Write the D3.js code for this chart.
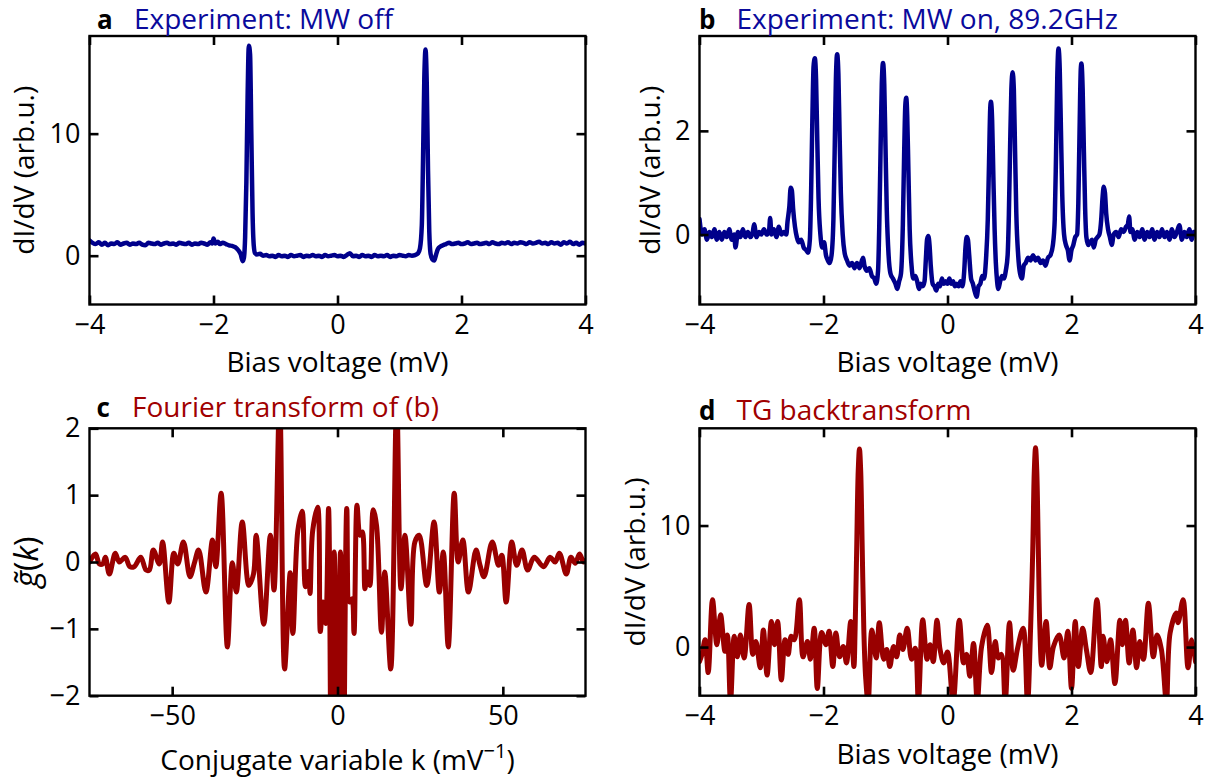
<!DOCTYPE html>
<html>
<head>
<meta charset="utf-8">
<script src="https://cdn.jsdelivr.net/npm/d3@7"></script>
<style>
body { margin: 0; background: #fff; }
text { font-family: "Open Sans", sans-serif; fill: #000; }
</style>
</head>
<body>
<div id="chart"></div>
<script>

// ---- data ----

// a: dI/dV, microwave off (bias mV, arb.u.)
var ptsA = [[-4.00,1.25],[-3.95,1.05],[-3.90,0.95],[-3.85,1.10],[-3.80,0.90],[-3.75,1.05],[-3.70,0.85],[-3.65,1.00],
  [-3.60,0.95],[-3.55,1.10],[-3.50,0.90],[-3.45,1.00],[-3.40,1.05],[-3.35,0.90],[-3.30,1.00],[-3.25,0.95],[-3.20,1.05],
  [-3.15,0.90],[-3.10,0.85],[-3.05,1.05],[-3.00,1.00],[-2.95,0.95],[-2.90,1.05],[-2.85,0.90],[-2.80,1.00],[-2.75,1.05],
  [-2.70,0.95],[-2.65,1.00],[-2.60,0.90],[-2.55,1.05],[-2.50,1.00],[-2.45,0.95],[-2.40,1.05],[-2.35,0.90],[-2.30,1.00],
  [-2.25,0.95],[-2.20,1.05],[-2.15,1.00],[-2.10,0.90],[-2.05,1.10],[-2.02,1.00],[-2.00,1.40],[-1.97,1.00],[-1.93,1.15],
  [-1.90,0.95],[-1.85,1.05],[-1.80,0.95],[-1.75,0.85],[-1.70,0.80],[-1.65,0.70],[-1.60,0.45],[-1.56,0.10],[-1.53,-0.45],
  [-1.51,-0.20],[-1.49,1.50],[-1.47,6.00],[-1.45,13.0],[-1.43,17.2],[-1.41,16.5],[-1.39,10.0],[-1.37,3.50],[-1.35,0.80],
  [-1.33,0.20],[-1.30,0.10],[-1.25,0.15],[-1.20,0.00],[-1.15,0.05],[-1.10,-0.05],[-1.05,0.00],[-1.00,-0.10],[-0.95,0.05],
  [-0.90,-0.05],[-0.85,0.00],[-0.80,-0.10],[-0.75,0.05],[-0.70,-0.05],[-0.65,0.00],[-0.60,0.05],[-0.55,-0.10],[-0.50,0.00],
  [-0.45,-0.05],[-0.40,0.05],[-0.35,-0.05],[-0.30,0.00],[-0.25,-0.10],[-0.20,0.05],[-0.15,-0.05],[-0.10,0.00],[-0.05,0.05],
  [0.00,-0.05],[0.05,0.00],[0.10,-0.10],[0.15,0.05],[0.20,0.20],[0.25,-0.05],[0.30,0.00],[0.35,-0.10],[0.40,0.05],
  [0.45,-0.05],[0.50,0.00],[0.55,-0.10],[0.60,0.05],[0.65,-0.05],[0.70,0.00],[0.75,-0.05],[0.80,0.05],[0.85,-0.10],
  [0.90,0.00],[0.95,-0.05],[1.00,0.05],[1.05,0.00],[1.10,-0.05],[1.15,0.05],[1.20,0.00],[1.25,0.05],[1.30,0.20],
  [1.33,0.60],[1.36,2.50],[1.38,8.00],[1.40,14.5],[1.42,16.9],[1.44,14.0],[1.46,7.00],[1.48,2.00],[1.50,0.20],
  [1.53,-0.30],[1.56,-0.40],[1.59,0.10],[1.62,0.55],[1.66,0.75],[1.70,0.85],[1.75,0.95],[1.80,1.05],[1.85,0.95],
  [1.90,1.00],[1.95,1.05],[2.00,0.95],[2.05,1.00],[2.10,1.10],[2.15,0.95],[2.20,1.00],[2.25,1.05],[2.30,0.95],
  [2.35,1.00],[2.40,1.05],[2.45,0.95],[2.50,1.10],[2.55,1.00],[2.60,0.95],[2.65,1.05],[2.70,1.00],[2.75,1.10],
  [2.80,0.95],[2.85,1.05],[2.90,1.00],[2.95,1.10],[3.00,1.05],[3.05,0.95],[3.10,1.10],[3.15,1.00],[3.20,1.05],
  [3.25,1.15],[3.30,1.00],[3.35,1.05],[3.40,0.95],[3.45,1.10],[3.50,1.00],[3.55,1.05],[3.60,0.90],[3.65,1.10],
  [3.70,1.00],[3.75,1.15],[3.80,0.95],[3.85,1.05],[3.90,0.90],[3.95,1.05],[4.00,1.00]];

// b: dI/dV, microwave on at 89.2 GHz
var ptsB = [[-4.00,0.30],[-3.96,0.00],[-3.92,0.10],[-3.88,-0.10],[-3.84,0.05],[-3.80,-0.05],[-3.76,0.10],[-3.72,-0.10],
  [-3.68,0.05],[-3.64,-0.10],[-3.60,0.05],[-3.56,-0.05],[-3.52,0.10],[-3.48,-0.10],[-3.44,0.00],[-3.42,-0.25],[-3.38,0.05],
  [-3.34,-0.05],[-3.30,0.10],[-3.26,-0.05],[-3.22,0.05],[-3.18,-0.05],[-3.14,0.05],[-3.12,0.20],[-3.08,-0.05],[-3.04,0.05],
  [-3.00,0.00],[-2.96,0.10],[-2.92,0.00],[-2.88,0.05],[-2.86,0.32],[-2.84,0.00],[-2.80,0.10],[-2.76,-0.05],[-2.72,0.15],
  [-2.68,0.00],[-2.64,0.05],[-2.60,0.00],[-2.58,0.25],[-2.55,0.55],[-2.53,0.90],[-2.51,0.85],[-2.49,0.50],[-2.46,0.15],
  [-2.43,-0.05],[-2.40,-0.15],[-2.36,-0.10],[-2.32,-0.25],[-2.28,-0.30],[-2.25,-0.35],[-2.22,-0.10],[-2.20,0.80],
  [-2.18,2.20],[-2.16,3.25],[-2.14,3.40],[-2.12,3.00],[-2.10,1.80],[-2.08,0.70],[-2.05,0.00],[-2.02,-0.25],[-1.99,-0.15],
  [-1.96,-0.40],[-1.93,-0.50],[-1.90,-0.55],[-1.87,-0.40],[-1.84,0.30],[-1.82,1.60],[-1.80,3.00],[-1.78,3.48],
  [-1.76,3.10],[-1.74,1.90],[-1.72,0.80],[-1.69,0.00],[-1.66,-0.35],[-1.62,-0.50],[-1.58,-0.60],[-1.54,-0.55],
  [-1.50,-0.65],[-1.46,-0.55],[-1.42,-0.65],[-1.38,-0.50],[-1.36,-0.45],[-1.34,-0.60],[-1.30,-0.70],[-1.26,-0.65],
  [-1.22,-0.80],[-1.18,-0.85],[-1.15,-0.95],[-1.12,-0.70],[-1.10,0.20],[-1.08,1.60],[-1.06,2.90],[-1.04,3.31],
  [-1.02,2.90],[-1.00,1.70],[-0.98,0.50],[-0.95,-0.40],[-0.92,-0.75],[-0.88,-0.85],[-0.84,-0.95],[-0.81,-1.05],
  [-0.78,-0.90],[-0.75,-0.75],[-0.72,0.20],[-0.70,1.50],[-0.68,2.50],[-0.665,2.64],[-0.65,2.30],[-0.63,1.20],[-0.61,0.10],
  [-0.58,-0.60],[-0.55,-0.85],[-0.52,-0.80],[-0.49,-0.90],[-0.46,-1.05],[-0.43,-0.95],[-0.40,-1.00],[-0.37,-0.90],
  [-0.35,-0.50],[-0.33,-0.10],[-0.31,-0.03],[-0.29,-0.20],[-0.27,-0.60],[-0.24,-0.95],[-0.21,-1.00],[-0.18,-1.08],
  [-0.15,-0.95],[-0.12,-1.00],[-0.09,-0.85],[-0.06,-0.95],[-0.03,-0.90],[0.00,-0.95],[0.03,-0.85],[0.06,-0.95],
  [0.09,-0.90],[0.12,-1.00],[0.15,-0.95],[0.18,-1.00],[0.21,-0.90],[0.24,-1.00],[0.27,-0.70],[0.29,-0.25],[0.31,-0.05],
  [0.33,-0.10],[0.35,-0.40],[0.38,-0.85],[0.41,-0.95],[0.44,-1.10],[0.47,-1.20],[0.50,-1.00],[0.53,-0.95],[0.56,-0.80],
  [0.59,-0.85],[0.62,-0.50],[0.65,0.30],[0.67,1.40],[0.69,2.45],[0.70,2.56],[0.72,2.20],[0.74,1.10],[0.76,0.10],
  [0.78,-0.55],[0.80,-0.90],[0.82,-1.05],[0.85,-0.90],[0.88,-0.80],[0.91,-0.85],[0.94,-0.70],[0.97,-0.40],[0.99,0.40],
  [1.01,1.70],[1.03,2.80],[1.05,3.13],[1.07,2.80],[1.09,1.60],[1.11,0.40],[1.14,-0.40],[1.17,-0.75],[1.20,-0.85],
  [1.23,-0.60],[1.26,-0.55],[1.30,-0.45],[1.34,-0.50],[1.38,-0.40],[1.42,-0.50],[1.46,-0.45],[1.50,-0.55],[1.54,-0.50],
  [1.58,-0.60],[1.62,-0.45],[1.66,-0.40],[1.70,-0.20],[1.73,0.30],[1.75,1.50],[1.77,3.00],[1.79,3.59],[1.81,3.20],
  [1.83,2.00],[1.85,0.80],[1.88,0.00],[1.91,-0.20],[1.94,-0.30],[1.97,-0.50],[2.00,-0.30],[2.03,-0.20],[2.06,-0.05],
  [2.09,0.00],[2.11,0.60],[2.13,2.00],[2.15,3.20],[2.16,3.30],[2.18,2.80],[2.20,1.60],[2.22,0.50],[2.24,-0.05],
  [2.27,-0.20],[2.30,-0.15],[2.33,-0.10],[2.36,-0.25],[2.39,-0.10],[2.42,-0.05],[2.45,0.00],[2.48,0.30],[2.50,0.70],
  [2.52,0.92],[2.54,0.80],[2.56,0.40],[2.59,0.10],[2.62,-0.05],[2.65,-0.20],[2.68,0.00],[2.72,0.05],[2.76,-0.05],
  [2.80,0.10],[2.84,0.05],[2.88,0.15],[2.91,0.20],[2.93,0.35],[2.95,0.05],[2.98,0.10],[3.02,-0.10],[3.06,0.05],
  [3.10,-0.05],[3.14,0.10],[3.18,-0.10],[3.22,0.05],[3.26,-0.05],[3.30,0.10],[3.34,-0.10],[3.38,0.05],[3.42,-0.05],
  [3.46,0.10],[3.50,-0.05],[3.54,0.05],[3.58,-0.10],[3.62,0.10],[3.66,-0.05],[3.70,0.05],[3.74,0.18],[3.78,-0.10],
  [3.82,0.05],[3.86,-0.05],[3.90,0.10],[3.94,-0.10],[3.97,0.05],[4.00,0.05]];

// c: Fourier transform of (b), k in 1/mV
var ptsC = [[-75.0,0.00],[-73.2,0.12],[-72.0,-0.03],[-71.0,-0.03],[-70.2,0.07],[-69.0,-0.18],[-67.2,0.13],[-66.0,0.00],
  [-64.2,0.07],[-62.8,-0.07],[-61.5,-0.07],[-59.5,0.07],[-57.9,-0.12],[-56.9,-0.12],[-55.7,0.18],[-53.9,-0.03],
  [-52.9,0.30],[-51.0,-0.60],[-49.5,0.13],[-48.3,-0.03],[-46.6,0.30],[-44.6,-0.22],[-43.3,-0.02],[-42.0,0.18],
  [-39.8,-0.45],[-37.8,0.33],[-36.8,-0.07],[-35.2,1.03],[-33.3,-1.27],[-31.8,-0.01],[-30.6,-0.45],[-28.8,0.60],
  [-26.8,-0.35],[-25.4,-0.18],[-24.6,0.40],[-22.3,-0.93],[-20.3,0.40],[-19.2,-0.42],[-17.5,2.40],[-16.0,-1.60],
  [-14.3,-0.16],[-13.5,-1.07],[-12.0,0.47],[-10.7,0.76],[-9.7,-0.37],[-8.7,-0.14],[-8.3,-0.47],[-7.5,0.47],
  [-6.0,0.82],[-5.2,-1.04],[-4.4,-0.60],[-3.6,-0.92],[-2.7,0.80],[-1.9,-3.00],[-1.0,0.15],[0.0,-3.00],[0.9,0.15],
  [1.8,-3.00],[2.8,0.80],[3.7,-0.60],[4.4,-0.55],[5.0,-1.07],[5.9,0.85],[6.8,0.40],[7.5,0.45],[8.3,-0.40],[9.0,-0.15],
  [9.8,-0.35],[10.8,0.78],[11.8,0.55],[13.3,-1.05],[14.3,-0.15],[16.1,-1.60],[17.9,2.40],[19.2,-0.40],[20.4,0.40],
  [22.2,-0.93],[23.4,0.30],[24.7,0.40],[27.0,-0.35],[29.2,0.60],[30.8,-0.45],[32.0,0.15],[33.5,-1.27],[35.3,1.03],
  [36.5,0.00],[37.9,0.33],[39.6,-0.45],[41.9,0.18],[43.1,-0.05],[44.3,-0.22],[46.8,0.30],[48.7,-0.05],[49.7,0.10],
  [51.0,-0.60],[52.7,0.30],[54.2,-0.05],[55.8,0.18],[57.5,-0.12],[59.5,0.07],[62.3,-0.07],[64.3,0.07],[65.8,0.00],
  [67.1,0.13],[69.2,-0.18],[70.6,0.07],[71.9,-0.02],[73.2,0.12],[74.4,0.00],[75.0,0.02]];

// d: TG backtransform
var ptsD = [[-4.00,-1.2],[-3.96,-0.6],[-3.91,0.6],[-3.86,-2.1],[-3.79,3.9],[-3.72,0.2],[-3.66,2.65],[-3.59,-0.35],
  [-3.55,1.0],[-3.50,-4.5],[-3.44,0.9],[-3.39,-0.8],[-3.34,1.0],[-3.28,-0.9],[-3.20,3.5],[-3.14,-0.6],[-3.09,0.45],
  [-3.02,-1.7],[-2.97,1.4],[-2.91,-2.3],[-2.84,2.1],[-2.79,0.2],[-2.74,2.1],[-2.68,-2.7],[-2.62,0.6],[-2.57,-0.6],
  [-2.52,0.9],[-2.47,0.6],[-2.39,3.9],[-2.33,-0.8],[-2.26,0.45],[-2.21,-1.0],[-2.15,1.55],[-2.10,-3.4],[-2.03,1.2],
  [-1.96,0.2],[-1.91,1.3],[-1.85,-1.6],[-1.80,1.15],[-1.74,-0.8],[-1.68,0.05],[-1.63,-1.3],[-1.56,2.1],[-1.51,-1.6],
  [-1.49,1.5],[-1.465,8.0],[-1.44,14.5],[-1.42,16.3],[-1.40,14.5],[-1.375,8.0],[-1.35,1.5],[-1.32,-2.5],[-1.28,-4.6],
  [-1.22,1.4],[-1.15,-0.9],[-1.10,2.0],[-1.03,-1.0],[-0.98,-0.2],[-0.93,-1.6],[-0.87,0.05],[-0.82,-0.8],[-0.77,1.0],
  [-0.72,-0.2],[-0.65,1.55],[-0.58,-1.0],[-0.52,-0.1],[-0.47,-4.5],[-0.40,2.25],[-0.33,-1.0],[-0.28,0.2],[-0.23,-1.2],
  [-0.17,2.2],[-0.12,-0.2],[-0.06,-1.3],[0.00,-0.4],[0.09,-4.5],[0.19,2.2],[0.26,-1.3],[0.31,-0.6],[0.36,-2.4],
  [0.42,0.3],[0.48,-4.5],[0.55,0.05],[0.64,1.8],[0.71,-2.1],[0.77,0.45],[0.82,-0.9],[0.87,-0.6],[0.93,-4.5],[1.00,2.0],
  [1.06,-1.9],[1.13,-0.1],[1.22,1.55],[1.29,-4.6],[1.34,1.5],[1.375,8.0],[1.40,14.5],[1.42,16.4],[1.44,14.5],
  [1.465,8.0],[1.49,1.5],[1.52,-1.5],[1.59,2.1],[1.65,-1.7],[1.71,0.05],[1.80,1.0],[1.88,-0.9],[1.94,1.3],[2.00,-3.4],
  [2.06,2.1],[2.11,-1.6],[2.18,1.55],[2.24,-0.2],[2.31,-2.1],[2.41,3.9],[2.48,-1.6],[2.51,0.9],[2.57,-1.2],[2.63,0.6],
  [2.70,-3.0],[2.78,2.2],[2.82,0.2],[2.87,2.2],[2.93,-1.3],[2.99,1.4],[3.05,-1.7],[3.10,0.45],[3.16,-1.0],[3.24,3.6],
  [3.32,-0.8],[3.38,1.0],[3.45,-0.2],[3.53,-4.5],[3.59,1.15],[3.69,2.8],[3.72,2.0],[3.80,3.9],[3.88,-1.7],[3.94,0.6],
  [4.00,-1.2]];

// tick values
var biasTicks = [-4, -2, 0, 2, 4];
var kTicks = [-50, 0, 50];
var ticksA = [0, 10], ticksB = [0, 2], ticksC = [-2, -1, 0, 1, 2], ticksD = [0, 10];

var blue = "#00008b", blueTitle = "#0a0a9c";
var red = "#990000", redTitle = "#a00000";

var svg = d3.select("#chart").append("svg")
    .attr("width", 1220)
    .attr("height", 781);

var panels = [
  {id: "a", pts: ptsA, box: [89.5, 585.5, 36, 304.5], xdom: [-4, 4], ydom: [-4, 18], xt: biasTicks, yt: ticksA,
   color: blue, tcolor: blueTitle, curve: d3.curveMonotoneX, lx: 97, tx: 134, ty: 29,
   title: "Experiment: MW off", xlabel: "Bias voltage (mV)", xly: 372, ylx: 34, width: 4.5},
  {id: "b", pts: ptsB, box: [699.5, 1195.5, 36, 304.5], xdom: [-4, 4], ydom: [-1.35, 3.83], xt: biasTicks, yt: ticksB,
   color: blue, tcolor: blueTitle, curve: d3.curveMonotoneX, lx: 699, tx: 736.5, ty: 29,
   title: "Experiment: MW on, 89.2GHz", xlabel: "Bias voltage (mV)", xly: 372, ylx: 660, width: 4.5},
  {id: "c", pts: ptsC, box: [89.5, 585.5, 428.3, 695.7], xdom: [-75, 75], ydom: [-2, 2], xt: kTicks, yt: ticksC,
   color: red, tcolor: redTitle, curve: d3.curveCatmullRom, lx: 96.5, tx: 132, ty: 417,
   title: "Fourier transform of (b)", xlabel: "k", xly: 770, ylx: 38, width: 5},
  {id: "d", pts: ptsD, box: [699.5, 1195.5, 428.3, 695.7], xdom: [-4, 4], ydom: [-4, 18], xt: biasTicks, yt: ticksD,
   color: red, tcolor: redTitle, curve: d3.curveCatmullRom, lx: 699, tx: 736.5, ty: 420,
   title: "TG backtransform", xlabel: "Bias voltage (mV)", xly: 764, ylx: 645, width: 5}
];

panels.forEach(function(p) {
  var l = p.box[0], r = p.box[1], t = p.box[2], b = p.box[3];
  var x = d3.scaleLinear().domain(p.xdom).range([l, r]);
  var y = d3.scaleLinear().domain(p.ydom).range([b, t]);

  // clip the trace to the frame
  svg.append("clipPath").attr("id", "clip-" + p.id)
    .append("rect").attr("x", l).attr("y", t).attr("width", r - l).attr("height", b - t);

  var line = d3.line()
      .x(function(d) { return x(d[0]); })
      .y(function(d) { return y(d[1]); })
      .curve(p.curve);

  svg.append("path")
      .datum(p.pts)
      .attr("clip-path", "url(#clip-" + p.id + ")")
      .attr("fill", "none")
      .attr("stroke", p.color)
      .attr("stroke-width", p.width)
      .attr("stroke-linejoin", "round")
      .attr("stroke-linecap", "round")
      .attr("d", line);

  // inward ticks on all four sides
  var fmt = function(d) { return d3.format("d")(d).replace("-", "\u2212"); };
  var gb = svg.append("g").attr("transform", "translate(0," + b + ")")
      .call(d3.axisBottom(x).tickValues(p.xt).tickSize(-9).tickPadding(10).tickFormat(fmt));
  var gt = svg.append("g").attr("transform", "translate(0," + t + ")")
      .call(d3.axisTop(x).tickValues(p.xt).tickSize(-9).tickFormat(""));
  var gl = svg.append("g").attr("transform", "translate(" + l + ",0)")
      .call(d3.axisLeft(y).tickValues(p.yt).tickSize(-9).tickPadding(9).tickFormat(fmt));
  var gr = svg.append("g").attr("transform", "translate(" + r + ",0)")
      .call(d3.axisRight(y).tickValues(p.yt).tickSize(-9).tickFormat(""));

  [gb, gt, gl, gr].forEach(function(g) {
    g.select(".domain").remove();
    g.selectAll(".tick line").attr("stroke", "#000").attr("stroke-width", 2.6);
    g.selectAll("text").style("font-size", "27px").style("font-family", "'Open Sans', sans-serif").attr("fill", "#000");
  });

  // frame
  svg.append("rect")
      .attr("x", l).attr("y", t).attr("width", r - l).attr("height", b - t)
      .attr("fill", "none").attr("stroke", "#000").attr("stroke-width", 2.4);

  // panel letter and title
  svg.append("text").attr("x", p.lx).attr("y", p.ty)
      .style("font-size", "26px").style("font-weight", "bold").text(p.id);
  svg.append("text").attr("x", p.tx).attr("y", p.ty)
      .style("font-size", "28px").style("fill", p.tcolor).text(p.title);

  // x label
  var xl = svg.append("text")
      .attr("x", (l + r) / 2).attr("y", p.xly)
      .attr("text-anchor", "middle")
      .style("font-size", "28px");
  if (p.id == "c") {
    xl.append("tspan").text("Conjugate variable k (mV");
    xl.append("tspan").attr("dy", -12).style("font-size", "20px").text("\u22121");
    xl.append("tspan").attr("dy", 12).text(")");
  } else {
    xl.text(p.xlabel);
  }

  // y label
  var yl = svg.append("text")
      .attr("transform", "translate(" + p.ylx + "," + ((t + b) / 2) + ") rotate(-90)")
      .attr("text-anchor", "middle")
      .style("font-size", "28px");
  if (p.id == "c") {
    yl.style("font-size", "32px");
    yl.append("tspan").style("font-style", "italic").text("g\u0303");
    yl.append("tspan").text("(");
    yl.append("tspan").style("font-style", "italic").text("k");
    yl.append("tspan").text(")");
  } else {
    yl.text("dI/dV (arb.u.)");
  }
});

</script>
</body>
</html>
